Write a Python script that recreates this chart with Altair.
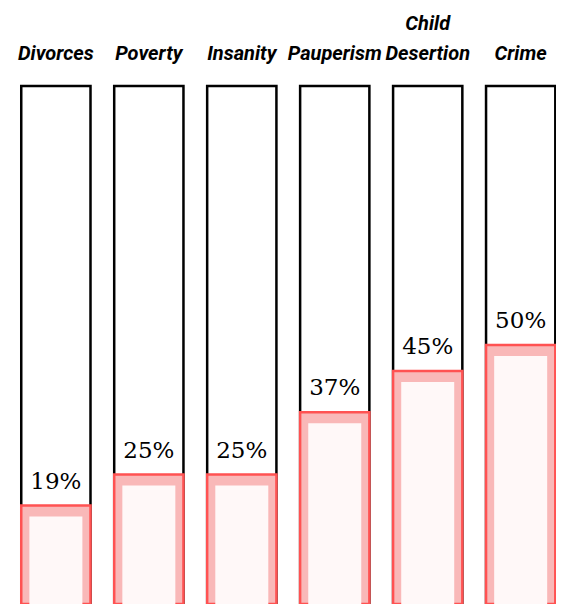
import altair as alt
import pandas as pd

categories = ["Divorces", "Poverty", "Insanity", "Pauperism", "Child Desertion", "Crime"]
name_line1 = ["", "", "", "", "Child", ""]
name_line2 = ["Divorces", "Poverty", "Insanity", "Pauperism", "Desertion", "Crime"]
values = [19, 25, 25, 37, 45, 50]
pct_labels = ["19%", "25%", "25%", "37%", "45%", "50%"]
full = [100] * 6

df = pd.DataFrame({
    "cat": categories,
    "l1": name_line1,
    "l2": name_line2,
    "value": values,
    "pct": pct_labels,
    "full": full,
})

xs = alt.X("cat:N", sort=categories, axis=None,
           scale=alt.Scale(paddingInner=0.255, paddingOuter=0.075, align=0.95))
ys = alt.Scale(domain=[0, 100], nice=False, zero=True)

base = alt.Chart(df)

outer = base.mark_bar(fill="white", stroke="black", strokeWidth=2.5).encode(
    x=xs, y=alt.Y("full:Q", scale=ys, axis=None))

red = base.mark_bar(fill="#f9b8b8", stroke="#ff5252", strokeWidth=2.5).encode(
    x=xs, y=alt.Y("value:Q", scale=ys, axis=None))

inner = base.mark_bar(fill="#fff8f8", size=53, yOffset=11).encode(
    x=xs, y=alt.Y("value:Q", scale=ys, axis=None))

pct = base.mark_text(baseline="bottom", dy=-12, fontSize=23, font="DejaVu Serif",
                     color="black").encode(
    x=xs, y=alt.Y("value:Q", scale=ys, axis=None), text="pct:N")

name_font = dict(baseline="alphabetic", fontSize=20, fontStyle="italic", fontWeight="bold",
                 font="Roboto", color="black")
names1 = base.mark_text(**name_font).encode(x=xs, y=alt.value(-56), text="l1:N")
names2 = base.mark_text(**name_font).encode(x=xs, y=alt.value(-26), text="l2:N")

chart = alt.layer(outer, red, inner, pct, names1, names2).properties(
    width=548, height=518,
    autosize=alt.AutoSizeParams(type="none"),
    padding={"left": 0, "top": 78, "right": 0, "bottom": 0},
    background="white",
).configure_view(stroke=None)

chart.save("out.html", embed_options={"renderer": "svg", "actions": False})
